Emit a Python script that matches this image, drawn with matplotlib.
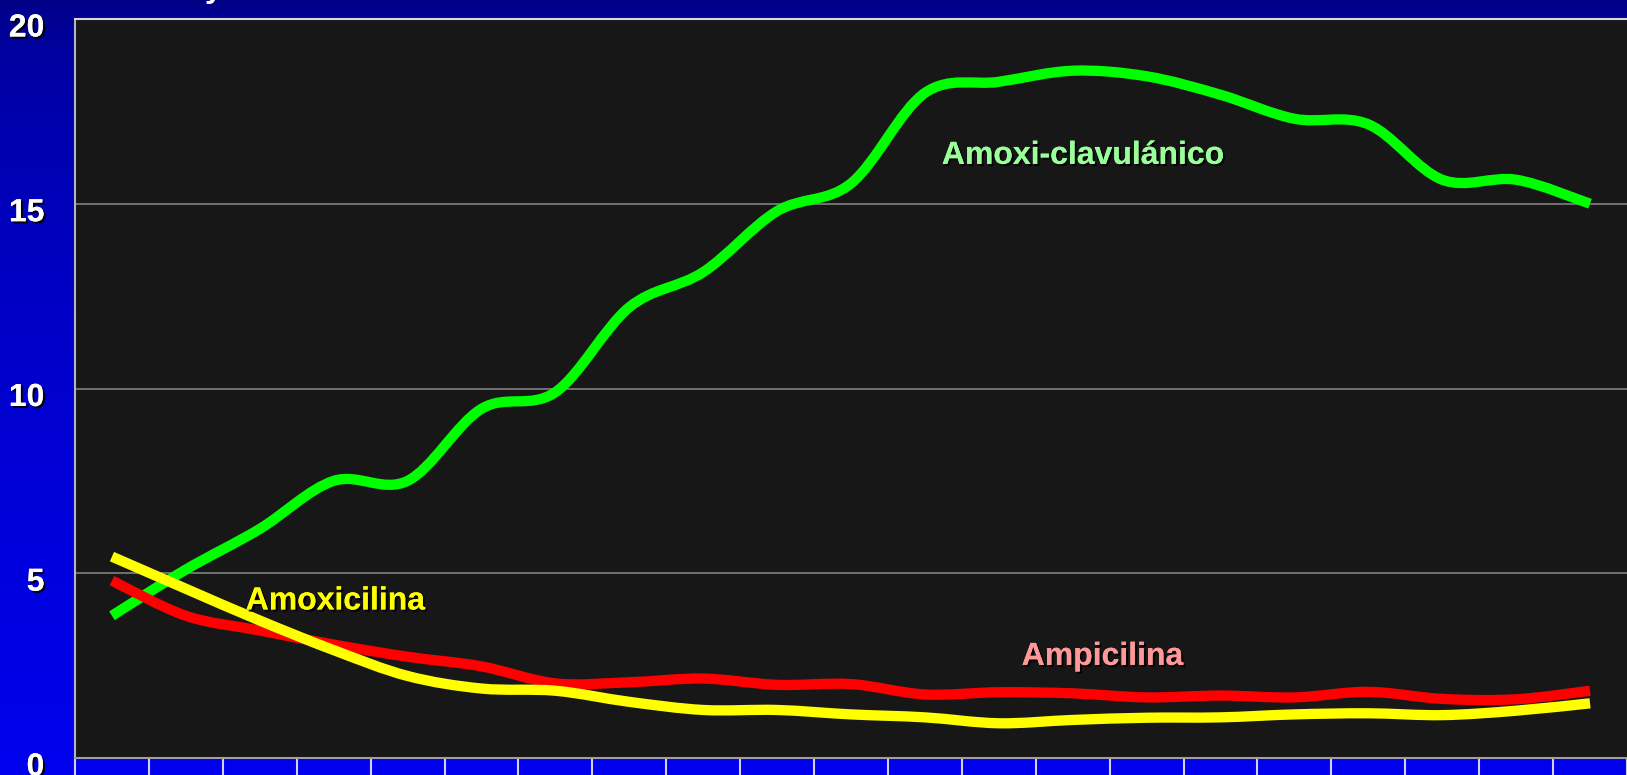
import numpy as np
import matplotlib
matplotlib.use("Agg")
import matplotlib.pyplot as plt
from matplotlib.path import Path
from matplotlib.patches import PathPatch
import matplotlib.patheffects as pe
import matplotlib.transforms as mtransforms

plt.rcParams['font.family'] = ['Liberation Sans', 'DejaVu Sans']

# 21 periods along the category axis (labels are cut off in the original)
periods = list(range(21))
amoxi_clav = [3.85, 5.1, 6.2, 7.5, 7.5, 9.45, 9.9, 12.2, 13.15, 14.8, 15.55,
              18.0, 18.3, 18.6, 18.45, 17.95, 17.3, 17.15, 15.65, 15.65, 15.0]
ampicilina = [4.8, 3.85, 3.45, 3.07, 2.74, 2.48, 2.02, 2.05, 2.15, 1.98, 2.0,
              1.72, 1.78, 1.75, 1.64, 1.69, 1.64, 1.79, 1.6, 1.59, 1.82]
amoxicilina = [5.45, 4.58, 3.72, 2.92, 2.22, 1.88, 1.82, 1.52, 1.3, 1.3, 1.18,
               1.1, 0.94, 1.03, 1.09, 1.1, 1.18, 1.21, 1.16, 1.28, 1.48]
yticks = [0, 5, 10, 15, 20]


def smooth_path(x, y):
    # bezier segments like the "smoothed line" option of the original chart
    p = np.column_stack([x, y]).astype(float)
    ext = np.vstack([p[0], p, p[-1]])
    verts = [p[0]]
    codes = [Path.MOVETO]
    for i in range(len(p) - 1):
        p0, p1, p2, p3 = ext[i], ext[i + 1], ext[i + 2], ext[i + 3]
        verts += [p1 + (p2 - p0) / 6, p2 - (p3 - p1) / 6, p2]
        codes += [Path.CURVE4] * 3
    return Path(verts, codes)


fig = plt.figure(figsize=(16.27, 7.75), dpi=100)

# blue gradient background
bg = fig.add_axes([0, 0, 1, 1], zorder=-1)
t = np.linspace(0, 1, 400)[:, None]
blue = np.interp(np.sqrt(t), [0, 1], [130, 238]) / 255.0
grad = np.dstack([np.zeros_like(blue), np.zeros_like(blue), blue])
bg.imshow(grad, aspect='auto', extent=[0, 1, 0, 1])
bg.axis('off')

ax = fig.add_axes([75 / 1627, 17 / 775, 1 - 75 / 1627, 739 / 775])
ax.set_facecolor('#171717')
ax.set_xlim(-0.5, 20.25)
ax.set_ylim(0, 20)

for vals, col in [(amoxi_clav, '#00ff00'), (ampicilina, '#ff0000'), (amoxicilina, '#ffff00')]:
    ax.add_patch(PathPatch(smooth_path(periods, vals), fill=False, edgecolor=col,
                           lw=7.4, capstyle='butt', joinstyle='round', zorder=3))

# grid and frame
for v in yticks[1:-1]:
    ax.axhline(v, color='#808080', lw=1.2, zorder=1)
ax.spines['right'].set_visible(False)
ax.spines['top'].set_color('#d8d8d8')
ax.spines['left'].set_color('#b4b4c8')
ax.spines['bottom'].set_color('#a0a0a0')
for s in ['top', 'left', 'bottom']:
    ax.spines[s].set_linewidth(1.5)

ax.set_xticks(np.arange(-0.5, 20.6, 1))
ax.set_xticklabels([])
ax.tick_params(axis='x', direction='out', length=20, width=1.5, color='#d0d0e8')

shadow = [pe.withSimplePatchShadow(offset=(1.5, -1.5), shadow_rgbFace='black', alpha=0.9),
          pe.Normal()]

ax.set_yticks(yticks)
ax.set_yticklabels([str(v) for v in yticks])
ax.tick_params(axis='y', length=0, pad=22, labelsize=23, labelcolor='white')
off = mtransforms.ScaledTranslation(0, -6 / 100, fig.dpi_scale_trans)
for lab in ax.get_yticklabels():
    lab.set_fontweight('bold')
    lab.set_path_effects(shadow)
    lab.set_transform(lab.get_transform() + off)

ax.text(11.23, 16.08, 'Amoxi-clavulánico', color='#99ff99', fontsize=23,
        fontweight='bold', ha='left', va='baseline', path_effects=shadow, zorder=4)
ax.text(1.81, 4.02, 'Amoxicilina', color='#ffff00', fontsize=23,
        fontweight='bold', ha='left', va='baseline', path_effects=shadow, zorder=4)
ax.text(12.31, 2.52, 'Ampicilina', color='#ff9999', fontsize=23,
        fontweight='bold', ha='left', va='baseline', path_effects=shadow, zorder=4)

# fragment of the cut-off title
fig.text(205 / 1627, 1.004, 'y', color='white', fontsize=23, fontweight='bold',
         ha='left', va='baseline')

fig.savefig('out.png', dpi=100)
